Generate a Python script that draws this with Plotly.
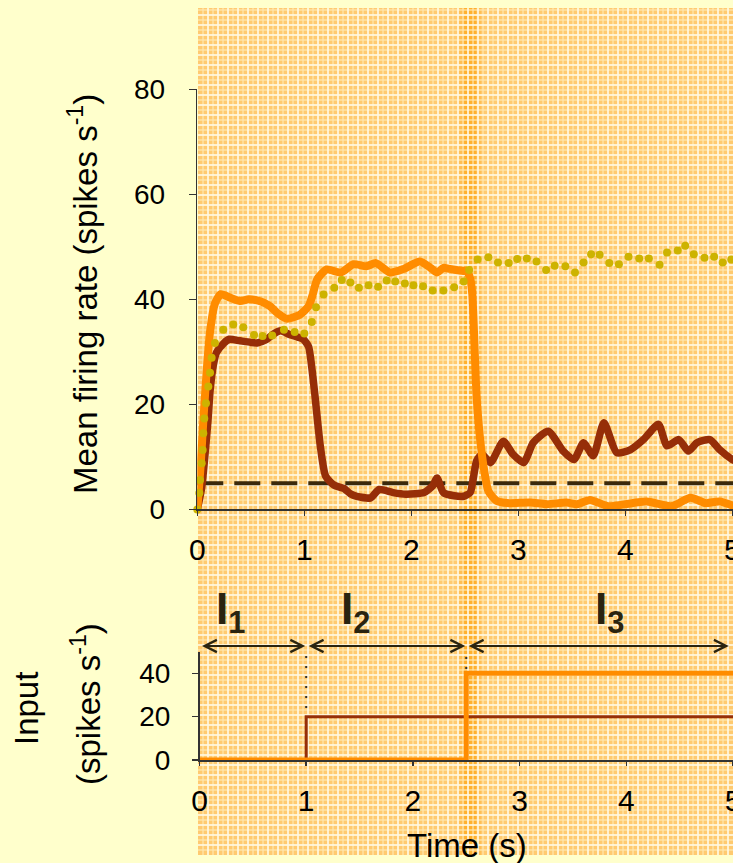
import plotly.graph_objects as go

W, H = 733, 863

# ---------------- data ----------------
# Top panel: mean firing rate (spikes/s) vs time (s)
t_orange = [0.0, 0.03, 0.06, 0.09, 0.12, 0.165, 0.22, 0.31, 0.40, 0.48, 0.56, 0.63, 0.68, 0.76, 0.84,
            0.96, 1.04, 1.08, 1.12, 1.21, 1.34, 1.46, 1.58, 1.67, 1.80, 1.93, 2.08, 2.18, 2.24, 2.30,
            2.36, 2.45, 2.52, 2.55, 2.57, 2.61, 2.645, 2.68, 2.72, 2.80, 2.90, 3.11, 3.27, 3.45, 3.55,
            3.67, 3.84, 4.00, 4.20, 4.43, 4.61, 4.75, 4.88, 5.02]
r_orange = [0.0, 8, 18, 27, 34, 39.2, 41, 40.3, 39.7, 40.0, 39.8, 39.3, 38.7, 37.2, 36.3,
            37.1, 38.7, 41, 43.8, 45.7, 45.1, 46.7, 46.3, 46.9, 45.1, 45.8, 47.2, 46.0, 45.1, 46.0,
            45.8, 45.5, 45.3, 44, 41, 21.6, 13, 7.6, 3.5, 1.6, 1.2, 1.3, 1.0, 1.3, 1.0,
            1.8, 0.6, 1.0, 1.5, 0.6, 2.2, 1.2, 1.5, 0.6]

t_red = [0.0, 0.04, 0.07, 0.10, 0.12, 0.15, 0.18, 0.25, 0.30, 0.40, 0.50, 0.56, 0.65, 0.72, 0.78,
         0.86, 0.94, 0.99, 1.04, 1.07, 1.10, 1.15, 1.20, 1.28, 1.37, 1.43, 1.49, 1.62, 1.70, 1.83,
         1.95, 2.12, 2.20, 2.24, 2.30, 2.40, 2.49, 2.55, 2.58, 2.61, 2.66, 2.74, 2.86, 2.95, 3.05,
         3.14, 3.28, 3.42, 3.52, 3.61, 3.70, 3.80, 3.92, 4.05, 4.17, 4.31, 4.39, 4.50, 4.59, 4.67,
         4.79, 4.88, 5.00, 5.05]
r_red = [0.0, 4, 10, 17, 22.7, 27.5, 29.9, 31.7, 32.4, 32.1, 31.8, 31.7, 32.4, 33.5, 34.0,
         33.3, 32.8, 32.4, 31.0, 27.0, 21.6, 12.0, 6.3, 4.6, 4.0, 3.0, 2.5, 2.2, 3.8, 3.2,
         2.9, 3.2, 4.5, 6.0, 3.2, 2.6, 2.5, 3.2, 6.0, 9.2, 10.5, 8.9, 13.0, 10.5, 8.9,
         12.7, 14.9, 11.1, 9.5, 12.7, 10.2, 16.5, 10.8, 11.4, 13.3, 16.2, 12.1, 13.3, 11.1, 12.7,
         13.3, 11.4, 9.5, 9.0]

t_yellow = [0.0, 0.019, 0.025, 0.041, 0.050, 0.056, 0.065, 0.081, 0.103, 0.119, 0.134, 0.165,
            0.243, 0.336, 0.43, 0.53, 0.61, 0.70, 0.81, 0.91, 1.00, 1.07, 1.11, 1.18, 1.28,
            1.35, 1.43, 1.51, 1.60, 1.69, 1.77, 1.85, 1.94, 2.02, 2.11, 2.20, 2.30, 2.40, 2.49,
            2.54, 2.62, 2.72, 2.81, 2.91, 2.99, 3.08, 3.17, 3.26, 3.34, 3.44, 3.53, 3.61, 3.68,
            3.76, 3.85, 3.94, 4.03, 4.13, 4.22, 4.32, 4.39, 4.49, 4.56, 4.64, 4.74, 4.83, 4.91, 4.99]
r_yellow = [0.0, 3.1, 5.6, 8.8, 11.3, 14.5, 17.3, 20.2, 23.4, 26.0, 28.9, 31.7,
            34.2, 35.2, 34.7, 33.2, 33.0, 33.1, 34.2, 33.8, 33.5, 35.7, 38.5, 40.9, 42.2,
            43.7, 43.2, 42.2, 42.7, 42.4, 43.6, 43.4, 43.0, 42.7, 42.5, 41.7, 41.7, 42.3, 43.4,
            45.6, 47.6, 48.0, 47.0, 46.9, 47.7, 47.8, 47.2, 45.6, 46.4, 46.3, 45.1, 47.0, 48.6,
            48.5, 46.9, 46.7, 48.1, 47.8, 47.8, 46.6, 48.9, 49.3, 50.2, 48.6, 47.9, 48.1, 47.0, 47.6]

t_baseline = [0.0, 5.1]
r_baseline = [5, 5]

# Bottom panel: input (spikes/s)
t_in_red = [0.0, 1.0, 1.0, 5.1]
in_red = [0, 0, 20, 20]
t_in_orange = [0.0, 2.5, 2.5, 5.1]
in_orange = [0, 0, 40, 40]

epoch_edges = [0.0, 1.0, 2.5, 4.97]
epoch_names = ["1", "2", "3"]
epoch_label_t = [0.29, 1.46, 3.84]

x_ticks = [0, 1, 2, 3, 4, 5]
y_ticks_top = [0, 20, 40, 60, 80]
y_ticks_bot = [0, 20, 40]
highlight_t = 2.55

# ---------------- styling helpers ----------------
FONT = "Liberation Sans, Arial, sans-serif"
ORANGE = "#FF8C00"
RED = "#962E08"
YELLOW = "#CDB300"


def fx(px):
    return px / W


def fy(py):
    return 1 - py / H


top_x0, top_pps = 197.3, 107.0
bot_x0, bot_pps = 199.5, 106.7

fig = go.Figure()

# texture helper subplot (xy) - invisible point only to create axes
fig.add_trace(go.Scatter(x=[0], y=[0], xaxis="x", yaxis="y", mode="markers",
                         marker=dict(size=1, opacity=0), hoverinfo="skip", showlegend=False))

# top panel traces
fig.add_trace(go.Scatter(x=t_baseline, y=r_baseline, xaxis="x2", yaxis="y2", mode="lines",
                         line=dict(color="#3b2a0c", width=4, dash="26px,11px"), showlegend=False))
fig.add_trace(go.Scatter(x=t_red, y=r_red, xaxis="x2", yaxis="y2", mode="lines",
                         line=dict(color=RED, width=7.5, shape="spline", smoothing=0.6),
                         cliponaxis=False, showlegend=False))
fig.add_trace(go.Scatter(x=t_orange, y=r_orange, xaxis="x2", yaxis="y2", mode="lines",
                         line=dict(color=ORANGE, width=8, shape="spline", smoothing=0.6),
                         cliponaxis=False, showlegend=False))
fig.add_trace(go.Scatter(x=t_yellow, y=r_yellow, xaxis="x2", yaxis="y2", mode="markers",
                         marker=dict(color=YELLOW, size=8), cliponaxis=False, showlegend=False))

# bottom panel traces
fig.add_trace(go.Scatter(x=t_in_red, y=in_red, xaxis="x3", yaxis="y3", mode="lines",
                         line=dict(color=RED, width=3), cliponaxis=False, showlegend=False))
fig.add_trace(go.Scatter(x=t_in_orange, y=in_orange, xaxis="x3", yaxis="y3", mode="lines",
                         line=dict(color=ORANGE, width=5), cliponaxis=False, showlegend=False))

# texture geometry (pixel units)
TEX_L, TEX_T, TEX_B = 198, 8, 855
tex_w = W - TEX_L
tex_h = TEX_B - TEX_T
band_px = top_x0 + highlight_t * top_pps - TEX_L

shapes = [
    dict(type="rect", xref="x", yref="y", x0=0, x1=tex_w, y0=0, y1=tex_h,
         fillcolor="#FFCA70", line=dict(width=0), layer="below"),
    dict(type="rect", xref="x", yref="y", x0=band_px - 11, x1=band_px + 11, y0=0, y1=tex_h,
         fillcolor="rgba(255,170,30,0.35)", line=dict(width=0), layer="below"),
    dict(type="rect", xref="x", yref="y", x0=band_px - 6, x1=band_px + 6, y0=0, y1=tex_h,
         fillcolor="rgba(255,160,0,0.45)", line=dict(width=0), layer="below"),
    # dotted guides in the input panel
    dict(type="line", xref="x3", yref="y3", x0=epoch_edges[1], x1=epoch_edges[1], y0=24, y1=48.5,
         line=dict(color="#333", width=2, dash="2px,8px")),
    dict(type="line", xref="x3", yref="y3", x0=epoch_edges[2], x1=epoch_edges[2], y0=42, y1=48.5,
         line=dict(color="#333", width=2, dash="2px,8px")),
]

annotations = []
arrow_y = 52.6 / 50.0   # in y3 domain units (just above the input axis)
for i in range(3):
    annotations.append(dict(
        x=epoch_edges[i + 1], y=arrow_y, ax=epoch_edges[i], ay=arrow_y,
        xref="x3", yref="y3 domain", axref="x3", ayref="y3 domain", text="", showarrow=True,
        arrowhead=5, startarrowhead=5, arrowside="end+start", arrowsize=1.2,
        startarrowsize=1.2, arrowwidth=2, arrowcolor="#2a2410", standoff=1, startstandoff=1))
    annotations.append(dict(
        x=epoch_label_t[i], y=fy(612), xref="x3", yref="paper", showarrow=False,
        text="<b>I</b><sub><b>" + epoch_names[i] + "</b></sub>",
        font=dict(family=FONT, size=44, color="#2a2410"), xanchor="center", yanchor="middle"))

TITLE_SIZE = 33
annotations += [
    dict(x=fx(83), y=fy(294), xref="paper", yref="paper", showarrow=False, textangle=-90,
         text="Mean firing rate (spikes s<sup>-1</sup>)",
         font=dict(family=FONT, size=TITLE_SIZE, color="black"), xanchor="center", yanchor="middle"),
    dict(x=fx(26), y=fy(709), xref="paper", yref="paper", showarrow=False, textangle=-90,
         text="Input", font=dict(family=FONT, size=TITLE_SIZE, color="black"),
         xanchor="center", yanchor="middle"),
    dict(x=fx(86), y=fy(704), xref="paper", yref="paper", showarrow=False, textangle=-90,
         text="(spikes s<sup>-1</sup>)", font=dict(family=FONT, size=TITLE_SIZE, color="black"),
         xanchor="center", yanchor="middle"),
    dict(x=fx(467), y=fy(845), xref="paper", yref="paper", showarrow=False,
         text="Time (s)", font=dict(family=FONT, size=TITLE_SIZE, color="black"),
         xanchor="center", yanchor="middle"),
]

xtickfont = dict(family=FONT, size=30, color="black")
ytickfont = dict(family=FONT, size=28, color="black")
axis_common = dict(showgrid=False, zeroline=False, showline=True, linecolor="#333", linewidth=1.5,
                   ticks="outside", tickcolor="#333", tickwidth=1.5,
                   ticklabeloverflow="allow", automargin=False)

grid_major = "rgba(255,248,225,0.85)"
grid_minor = "rgba(255,232,175,0.6)"

fig.update_layout(
    width=W, height=H, autosize=False,
    margin=dict(l=0, r=0, t=0, b=0, pad=0, autoexpand=False),
    paper_bgcolor="#FFFFCC", plot_bgcolor="rgba(0,0,0,0)", showlegend=False,
    shapes=shapes, annotations=annotations,
    xaxis=dict(domain=[fx(TEX_L), 1], range=[0, tex_w], showgrid=True, dtick=10, tick0=0,
               gridcolor=grid_major, gridwidth=1.5,
               minor=dict(dtick=5, showgrid=True, gridcolor=grid_minor, gridwidth=1.5),
               showticklabels=False, zeroline=False, showline=False, ticks="", fixedrange=True,
               automargin=False),
    yaxis=dict(domain=[fy(TEX_B), fy(TEX_T)], range=[0, tex_h], showgrid=True, dtick=10, tick0=0,
               gridcolor=grid_major, gridwidth=1.5,
               minor=dict(dtick=5, showgrid=True, gridcolor=grid_minor, gridwidth=1.5),
               showticklabels=False, zeroline=False, showline=False, ticks="", fixedrange=True,
               anchor="x", automargin=False),
    xaxis2=dict(domain=[fx(top_x0), 1], range=[0, (W - top_x0) / top_pps], anchor="y2",
                tickvals=x_ticks, ticklen=5, ticklabelstandoff=8, tickfont=xtickfont, **axis_common),
    yaxis2=dict(domain=[fy(509.4), fy(89.3)], range=[0, 80], anchor="x2",
                tickvals=y_ticks_top, ticklen=7, ticklabelstandoff=18, tickfont=ytickfont, **axis_common),
    xaxis3=dict(domain=[fx(bot_x0), 1], range=[0, (W - bot_x0) / bot_pps], anchor="y3",
                tickvals=x_ticks, ticklen=4, ticklabelstandoff=9, tickfont=xtickfont, **axis_common),
    yaxis3=dict(domain=[fy(760), fy(651.7)], range=[0, 50], anchor="x3",
                tickvals=y_ticks_bot, ticklen=6, ticklabelstandoff=16, tickfont=ytickfont, **axis_common),
)

fig.write_html("out.html", config={"displayModeBar": False, "staticPlot": True},
               post_script="document.body.style.margin='0';document.body.style.overflow='hidden';")
